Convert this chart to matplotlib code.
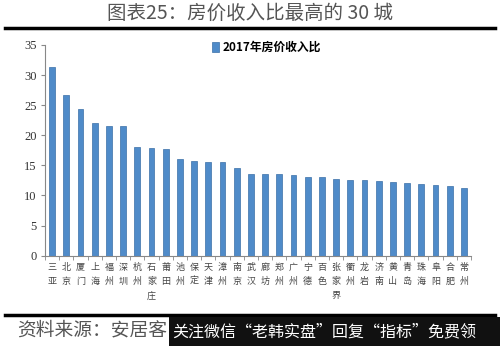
import matplotlib.pyplot as plt
from matplotlib.lines import Line2D
from matplotlib.patches import Rectangle

plt.rcParams['font.family'] = ['Noto Sans CJK SC', 'DejaVu Sans']

cities = ['三亚', '北京', '厦门', '上海', '福州', '深圳', '杭州', '石家庄', '莆田', '池州',
          '保定', '天津', '漳州', '南京', '武汉', '廊坊', '郑州', '广州', '宁德', '百色',
          '张家界', '衢州', '龙岩', '济南', '黄山', '青岛', '珠海', '阜阳', '合肥', '常州']
ratio_2017 = [31.3, 26.7, 24.3, 22.1, 21.6, 21.6, 18.0, 17.9, 17.8, 16.1,
              15.7, 15.5, 15.5, 14.5, 13.6, 13.6, 13.5, 13.4, 13.1, 13.1,
              12.8, 12.6, 12.6, 12.4, 12.2, 12.1, 11.9, 11.7, 11.5, 11.2]
series_name = '2017年房价收入比'
title = '图表25：房价收入比最高的 30 城'
source = '资料来源：安居客'
banner = '关注微信“老韩实盘”回复“指标”免费领'

fig = plt.figure(figsize=(5.0, 3.46), dpi=100)
ax = fig.add_axes([0.09, 0.261, 0.852, 0.609])

x = range(len(cities))
ax.bar(x, ratio_2017, width=0.42, color='#4F8BC9', edgecolor='#3B70A8',
       linewidth=0.5, label=series_name)

ax.set_xlim(-0.5, len(cities) - 0.5)
ax.set_ylim(0, 35)
ax.set_yticks(range(0, 36, 5))
ax.set_yticklabels([str(v) for v in range(0, 36, 5)], family='Liberation Serif',
                   fontsize=9, color='#333333')

# category labels stacked one character per line
ax.set_xticks(x)
ax.set_xticklabels(['\n'.join(c) for c in cities], fontsize=6.5, color='#444444',
                   linespacing=1.75, va='top')
ax.set_xticks([i - 0.5 for i in range(len(cities) + 1)], minor=True)
ax.tick_params(axis='x', which='major', length=0, pad=5)
ax.tick_params(axis='x', which='minor', length=3, color='#888888')
ax.tick_params(axis='y', length=3, color='#888888', pad=3)

for side in ('top', 'right'):
    ax.spines[side].set_visible(False)
for side in ('left', 'bottom'):
    ax.spines[side].set_color('#888888')
    ax.spines[side].set_linewidth(0.8)

leg = ax.legend(loc='upper center', bbox_to_anchor=(0.52, 1.07), frameon=False,
                handlelength=0.6, handleheight=0.9, handletextpad=0.3,
                prop={'size': 8.5, 'weight': 'bold'})

fig.text(0.5, 0.962, title, ha='center', va='center', fontsize=14, color='#555555')
fig.add_artist(Line2D([0.01, 0.99], [0.918, 0.918], transform=fig.transFigure,
                      color='black', linewidth=2.5))
fig.add_artist(Line2D([0.01, 0.99], [0.09, 0.09], transform=fig.transFigure,
                      color='black', linewidth=2.5))

fig.text(0.035, 0.045, source, ha='left', va='center', fontsize=13.5,
         color='#555555', style='italic')
fig.add_artist(Rectangle((0.338, 0.0), 0.662, 0.083, transform=fig.transFigure,
                         facecolor='#111111', edgecolor='none', zorder=5))
fig.text(0.345, 0.041, banner, ha='left', va='center', fontsize=11.5,
         color='white', zorder=6)

fig.savefig('out.png', dpi=100)
